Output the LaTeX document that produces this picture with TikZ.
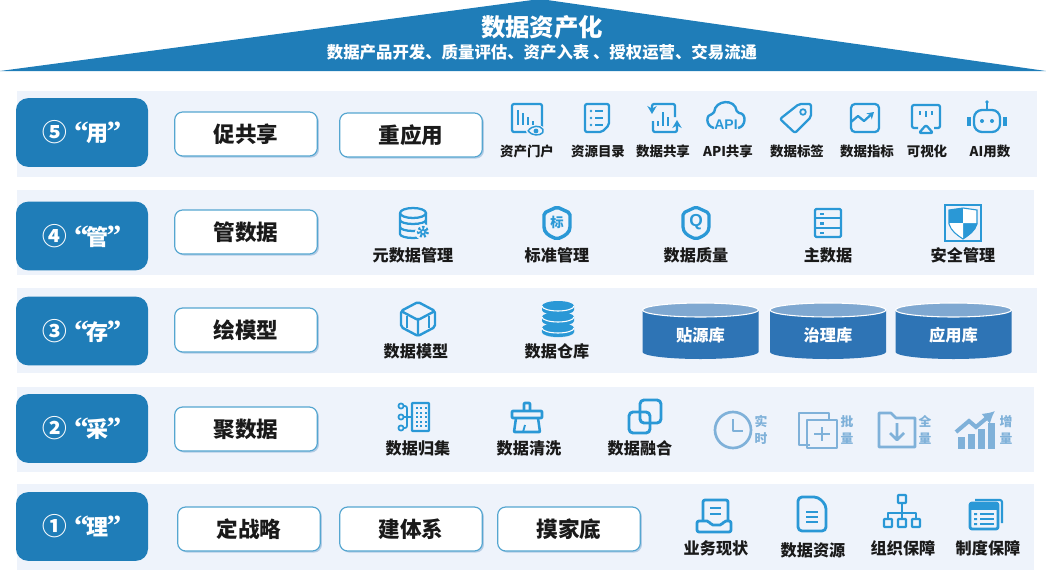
\documentclass[tikz,border=0pt]{standalone}
\usepackage{fontspec}
\newfontfamily\cjk{Noto Sans CJK SC}
\newfontfamily\quotefont{Liberation Serif}
\usetikzlibrary{shadows,arrows.meta}
\definecolor{roofblue}{HTML}{1F7DB8}
\definecolor{bandbg}{HTML}{EEF3FB}
\definecolor{iconblue}{HTML}{2A98D6}
\definecolor{btnline}{HTML}{55A6D0}
\definecolor{cylbody}{HTML}{2E74B5}
\definecolor{cyltop}{HTML}{7FA8D1}
\definecolor{lightblue}{HTML}{7FB1D9}
\definecolor{inkblack}{HTML}{1A1A1A}
\newcommand{\layername}[2]{{\fontsize{18.5}{18}\selectfont #1}\hspace{5pt}{\quotefont\bfseries\fontsize{22}{20}\selectfont “}\hspace{-1.5pt}#2\hspace{-1.5pt}{\quotefont\bfseries\fontsize{22}{20}\selectfont ”}}
\tikzset{
  block/.style={fill=roofblue,rounded corners=9pt,minimum width=99pt,minimum height=51.5pt,inner sep=0pt,text=white,font=\cjk\bfseries\fontsize{16.5}{18}\selectfont},
  button/.style={draw=btnline,line width=0.9pt,fill=white,rounded corners=6pt,minimum width=107pt,minimum height=33pt,inner sep=0pt,text=inkblack,drop shadow={shadow xshift=1.2pt,shadow yshift=-1.2pt,opacity=0.3,fill=cylbody},font=\cjk\bfseries\fontsize{16.2}{18}\selectfont},
  smalllab/.style={text=inkblack,inner sep=0pt,font=\cjk\bfseries\fontsize{10.1}{11}\selectfont},
  midlab/.style={text=inkblack,inner sep=0pt,font=\cjk\bfseries\fontsize{12.1}{13}\selectfont},
  lightlab/.style={text=lightblue,inner sep=0pt,align=center,font=\cjk\bfseries\fontsize{9.6}{13}\selectfont},
  ico/.style={draw=iconblue,line width=1.7pt,line join=round,rounded corners=1.5pt},
  lico/.style={draw=lightblue,line width=2pt,line join=round},
  % 第五层图标
  portalicon/.pic={
    \draw[ico] (-15,-14) rectangle (15,14);
    \foreach \a/\b in {-9/-8,-4/-5,1/-1,6/3} \draw[ico] (\a,\b) -- (\a,7);
    \fill[bandbg] (9,13) ellipse (10 and 6);
    \draw[ico,line width=1.1pt] (1,13) .. controls (5,7) and (13,7) .. (17,13) .. controls (13,18) and (5,18) .. (1,13);
    \fill[iconblue] (9,13) circle (2.4);
  },
  catalogicon/.pic={
    \draw[ico] (-12,-14) -- (12,-14) -- (12,7) -- (5,14) -- (-12,14) -- cycle;
    \foreach \b in {-7,0,7} {\fill[iconblue] (-6,\b) circle (1.3); \draw[ico] (-2,\b) -- (6,\b);}
  },
  shareicon/.pic={
    \draw[ico,-{Stealth[length=6pt,width=7pt]}] (12,-1) -- (12,-14) -- (-11,-14) -- (-11,-4);
    \draw[ico,-{Stealth[length=6pt,width=7pt]}] (-10,3) -- (-10,14) -- (14,14) -- (14,2);
    \foreach \a/\b in {-5/3,0/-6,5/-1} \draw[ico] (\a,\b) -- (\a,8);
  },
  apiicon/.pic={
    \draw[ico,line width=1.8pt] (-12,10) .. controls (-21,8) and (-20,-4) .. (-12,-4) .. controls (-11,-18) and (9,-20) .. (11,-5) .. controls (21,-5) and (20,9) .. (12,10);
    \node[inner sep=0pt,text=iconblue,font=\fontspec{Liberation Sans}\bfseries\fontsize{10.5}{11}\selectfont] (-txt) at (0,7) {API};
  },
  tagicon/.pic={
    \draw[ico] (-16,1) -- (3,-14) -- (15,-14) -- (15,-1) -- (-1,15) -- cycle;
    \draw[ico,line width=1.3pt] (7,-6) circle (2.8);
  },
  metricicon/.pic={
    \draw[ico,rounded corners=3pt] (-14,-14) rectangle (14,14);
    \draw[ico,rounded corners=0pt,-{Stealth[length=5pt,width=6pt]}] (-14,4) -- (-7,-2) -- (-1,3) -- (9,-6);
  },
  visicon/.pic={
    \draw[ico] (-8,10) -- (-14,10) -- (-14,-13) -- (14,-13) -- (14,10) -- (8,10);
    \foreach \a/\b in {-6/-3,0/-1,6/-3} \draw[ico] (\a,-7) -- (\a,\b);
    \draw[ico] (0,7) -- (7,15) -- (-7,15) -- cycle;
  },
  boticon/.pic={
    \draw[ico,rounded corners=6pt] (-13,-8) rectangle (13,14);
    \draw[ico] (0,-8) -- (0,-15);
    \fill[iconblue] (0,-16) circle (1.8);
    \fill[iconblue] (-5,3) circle (2) (5,3) circle (2);
    \draw[ico,line width=2.4pt] (-18,-1) -- (-18,8) (18,-1) -- (18,8);
  },
  % 第四层图标
  metaicon/.pic={
    \draw[ico,rounded corners=0pt] (-13,-10) -- (-13,11) arc (180:0:13 and 4) -- (13,-10);
    \draw[ico,rounded corners=0pt] (0,-10) ellipse (13 and 5);
    \draw[ico,rounded corners=0pt] (-13,-3) arc (180:0:13 and 4) (-13,4) arc (180:0:13 and 4);
    \fill[bandbg] (10,9) circle (8);
    \draw[iconblue,line width=2.4pt,dash pattern=on 1.5pt off 1.5pt] (10,9) circle (4.5);
    \fill[iconblue] (10,9) circle (3);
    \fill[bandbg] (10,9) circle (1.3);
  },
  stdicon/.pic={
    \draw[ico,line width=2.6pt] (-13,-10) -- (0,-16) -- (13,-10) -- (13,6) .. controls (10,12) and (5,14) .. (0,16) .. controls (-5,14) and (-10,12) .. (-13,6) -- cycle;
    \node[inner sep=0pt,text=iconblue,font=\cjk\bfseries\fontsize{10}{10}\selectfont] (-txt) at (0,-1) {标};
  },
  qualicon/.pic={
    \draw[ico,line width=2.4pt] (-13,-10) -- (0,-16) -- (13,-10) -- (13,6) .. controls (10,12) and (5,14) .. (0,16) .. controls (-5,14) and (-10,12) .. (-13,6) -- cycle;
    \node[inner sep=0pt,text=iconblue,font=\fontspec{Liberation Sans}\bfseries\fontsize{13}{13}\selectfont] (-txt) at (0,-1) {Q};
  },
  mastericon/.pic={
    \draw[ico,rounded corners=1pt] (-13,-14) rectangle (13,14);
    \draw[ico] (-13,-5) -- (13,-5) (-13,5) -- (13,5);
    \foreach \b in {-10.5,-1,8.5} \fill[iconblue] (-8,\b) rectangle (-4,\b+2.5);
  },
  safeicon/.pic={
    \draw[iconblue,line width=1pt] (-18,-18) rectangle (18,18);
    \begin{scope}
      \clip (-14,-13) -- (0,-15) -- (14,-13) -- (14,1) .. controls (12,8) and (6,12) .. (0,16) .. controls (-6,12) and (-12,8) .. (-14,1) -- cycle;
      \fill[iconblue] (-15,-16) rectangle (0,0) (0,0) rectangle (15,17);
      \fill[white] (0,-16) rectangle (15,0) (-15,0) rectangle (0,17);
    \end{scope}
    \draw[iconblue,line width=0.8pt] (-14,-13) -- (0,-15) -- (14,-13) -- (14,1) .. controls (12,8) and (6,12) .. (0,16) .. controls (-6,12) and (-12,8) .. (-14,1) -- cycle;
  },
  % 第三层图标
  cubeicon/.pic={
    \draw[ico,line width=1.8pt] (0,-17) -- (17,-8) -- (17,8) -- (0,17) -- (-17,8) -- (-17,-8) -- cycle;
    \draw[ico,line width=1.8pt] (-17,-8) -- (0,1) -- (17,-8) (0,1) -- (0,17);
    \draw[ico,line width=1.2pt] (-11,-3) -- (-11,9) (11,-3) -- (11,9);
  },
  stackicon/.pic={
    \draw[iconblue!35,line width=0.6pt] (-16,11) -- (-16,13) arc (180:0:16 and 5) -- (16,11);
    \foreach \b in {-13,-2,9} {
      \fill[iconblue] (-16,\b) -- (-16,\b+4) arc (180:0:16 and 5) -- (16,\b) arc (0:-180:16 and 5) -- cycle;
      \draw[white,line width=0.8pt] (-16,\b) arc (180:0:16 and 5);
    }
  },
  dbcyl/.pic={
    \fill[cylbody] (-58,-42) -- (-58,0) arc (180:0:58 and 7) -- (58,-42) -- cycle;
    \fill[cyltop,draw=white,line width=0.8pt] (0,-42) ellipse (58 and 7);
  },
  % 第二层图标
  gathericon/.pic={
    \draw[ico,rounded corners=0.5pt] (-3,-14) rectangle (14,14);
    \foreach \a in {1.5,6,10.5} \foreach \b in {-9,-4.5,0,4.5,9} \fill[iconblue] (\a-1,\b-1) rectangle (\a+1,\b+1);
    \foreach \b in {-11,0,11} \draw[ico,line width=1.3pt] (-14,\b) circle (2.6);
    \draw[ico,line width=1.3pt] (-11,-11) -- (-8,-11) -- (-8,11) -- (-11,11) (-11,0) -- (-3,0);
  },
  broomicon/.pic={
    \draw[ico,line width=1.9pt,rounded corners=0.5pt] (-3,-6) -- (-3,-14) -- (3,-14) -- (3,-6);
    \draw[ico,line width=1.9pt,rounded corners=0.5pt] (-15,-6) rectangle (15,1);
    \draw[ico,line width=1.9pt,rounded corners=0.5pt] (-11,1) -- (-13,15) -- (13,15) -- (11,1);
    \draw[ico,line width=1.4pt] (-4,15) -- (-2,8);
  },
  mergeicon/.pic={
    \draw[ico,rounded corners=3pt,line width=2.2pt] (-5,-17) rectangle (16,6);
    \draw[ico,rounded corners=3pt,line width=2.2pt] (-16,-5) rectangle (5,16);
  },
  clockicon/.pic={
    \draw[lico] (0,0) circle (18);
    \draw[lico] (0,-11) -- (0,1) -- (10,1);
  },
  batchicon/.pic={
    \draw[lico] (-7,15) -- (-18,15) -- (-18,-17) -- (12,-17) -- (12,-10);
    \draw[lico] (-10,-10) rectangle (20,18);
    \draw[lico] (5,-3) -- (5,11) (-3,4) -- (13,4);
  },
  foldericon/.pic={
    \draw[lico] (-18,17) -- (-18,-17) -- (-6,-17) -- (-1,-12) -- (18,-12) -- (18,17) -- cycle;
    \draw[lico] (0,-7) -- (0,9) (-7,3) -- (0,10) -- (7,3);
  },
  growthicon/.pic={
    \draw[lightblue,line width=3pt,-{Latex[length=9pt,width=10pt]}] (-20,2) -- (-7,-9) -- (0,-3) -- (19,-19);
    \foreach \a/\b in {-15/7,-5/4,5/-1,15/-7} \fill[lightblue] (\a-3.5,\b) rectangle (\a+3.5,19);
  },
  % 第一层图标
  statusicon/.pic={
    \draw[ico,line width=2.1pt] (-11,6) -- (-11,-14) -- (14,-14) -- (14,6);
    \draw[ico,line width=2.1pt] (-4,-6) -- (7,-6) (-4,0) -- (7,0);
    \draw[ico,line width=2.1pt] (-17,7) -- (-5,7) -- (-3,11) -- (8,11) -- (10,7) -- (17,7) -- (17,18) -- (-17,18) -- cycle;
  },
  docicon/.pic={
    \draw[ico,line width=2.1pt,rounded corners=3pt] (-14,-17) -- (6,-17) -- (14,-9) -- (14,17) -- (-14,17) -- cycle;
    \draw[ico,line width=1.8pt] (-6,-2) -- (6,-2) (-6,3) -- (6,3) (-6,8) -- (6,8);
  },
  orgicon/.pic={
    \draw[ico,rounded corners=0.5pt] (-4,-17) rectangle (4,-9);
    \draw[ico,rounded corners=0pt] (0,-9) -- (0,7) (-14,7) -- (-14,1) -- (14,1) -- (14,7);
    \foreach \a in {-14,0,14} \draw[ico,rounded corners=0.5pt] (\a-4,7) rectangle (\a+4,15);
  },
  ruleicon/.pic={
    \draw[ico,line width=1.6pt] (-11,-14) -- (16,-14) -- (16,9);
    \fill[iconblue] (-16,-11) rectangle (12,-4);
    \draw[ico,line width=2.1pt] (-16,-11) rectangle (12,15);
    \draw[ico,line width=1.4pt] (-6,0) -- (8,0) (-6,5) -- (8,5) (-6,10) -- (8,10);
    \fill[iconblue] (-12,-1) rectangle (-9,1) (-12,4) rectangle (-9,6) (-12,9) rectangle (-9,11);
  },
}
\begin{document}
\begin{tikzpicture}[x=0.75pt,y=-0.75pt]
    \useasboundingbox (0,0) rectangle (1046,571);

    % 绘制屋顶
    \fill[roofblue] (0,71) -- (540,-1) -- (1046,71) -- cycle;
    \node[text=white,inner sep=0pt,font=\cjk\bfseries\fontsize{18.3}{20}\selectfont] (title) at (542,27) {数据资产化};
    \node[text=white,inner sep=0pt,font=\cjk\bfseries\fontsize{12.3}{14}\selectfont] (subtitle) at (542,52) {数据产品开发、质量评估、资产入表 、授权运营、交易流通};

    % 绘制五层底板
    \foreach \a/\b/\r in {91/177/1037,190/275/1034,288/373/1037,387/472/1034,484/570/1034}
        \fill[bandbg] (17,\a) rectangle (\r,\b);

    % 左侧标题块
    \node[block] (yong) at (82,132.5) {\layername{⑤}{用}};
    \node[block] (guan) at (82,236) {\layername{④}{管}};
    \node[block] (cun)  at (82,331) {\layername{③}{存}};
    \node[block] (cai)  at (82,428.5) {\layername{②}{采}};
    \node[block] (li)   at (82,526.5) {\layername{①}{理}};

    % 按钮
    \node[button] (gongxiang) at (246,134) {促共享};
    \node[button] (yingyong) at (411,135) {重应用};
    \node[button] (guanshuju) at (246,232) {管数据};
    \node[button] (huimoxing) at (246,330) {绘模型};
    \node[button] (jushuju) at (246,429) {聚数据};
    \node[button] (zhanlue) at (249,529) {定战略};
    \node[button] (tixi) at (411,529) {建体系};
    \node[button] (jiadi) at (569,529) {摸家底};

    % 第五层
    \foreach \n/\x/\ix/\t/\p in {a/527/527/资产门户/portalicon,b/598/597/资源目录/catalogicon,c/663/663/数据共享/shareicon,d/728/726/API共享/apiicon,e/797/796/数据标签/tagicon,f/867/865/数据指标/metricicon,g/927/926/可视化/visicon,h/990/987/AI用数/boticon} {
        \pic (ic5\n) at (\ix,118) {\p};
        \node[smalllab] (lab5\n) at (\x,151) {\t};
    }

    % 第四层
    \foreach \n/\x/\t/\p in {a/413/元数据管理/metaicon,b/557/标准管理/stdicon,c/696/数据质量/qualicon,d/828/主数据/mastericon,e/963/安全管理/safeicon} {
        \pic (ic4\n) at (\x,223) {\p};
        \node[midlab] (lab4\n) at (\x,255.5) {\t};
    }

    % 第三层
    \pic (ic3a) at (418,319) {cubeicon};
    \node[midlab] (lab3a) at (416,351.5) {数据模型};
    \pic (ic3b) at (558,319) {stackicon};
    \node[midlab] (lab3b) at (557,351.5) {数据仓库};
    \foreach \n/\x/\t in {a/700.5/贴源库,b/828/治理库,c/953.5/应用库} {
        \pic (cyl\n) at (\x,352) {dbcyl};
        \node[text=white,inner sep=0pt,font=\cjk\bfseries\fontsize{12.2}{13}\selectfont] (lab3\n c) at (\x,335) {\t};
    }

    % 第二层
    \foreach \n/\ix/\x/\t/\p in {a/415/418/数据归集/gathericon,b/527/529/数据清洗/broomicon,c/645/640/数据融合/mergeicon} {
        \pic (ic2\n) at (\ix,417) {\p};
        \node[midlab] (lab2\n) at (\x,448.5) {\t};
    }
    \foreach \n/\ix/\p in {d/733/clockicon,e/817/batchicon,f/897/foldericon,g/976/growthicon}
        \pic (ic2\n) at (\ix,430) {\p};
    \node[lightlab] (lab2d) at (761,430) {实\\时};
    \node[lightlab] (lab2e) at (847,430) {批\\量};
    \node[lightlab] (lab2f) at (925,430) {全\\量};
    \node[lightlab] (lab2g) at (1006,430) {增\\量};

    % 第一层
    \foreach \n/\ix/\iy/\x/\y/\t/\p in {a/714/514/716/548.5/业务现状/statusicon,b/812/514/813/550/数据资源/docicon,c/902/512/903/548.5/组织保障/orgicon,d/986/514/988/548.5/制度保障/ruleicon} {
        \pic (ic1\n) at (\ix,\iy) {\p};
        \node[midlab] (lab1\n) at (\x,\y) {\t};
    }
\end{tikzpicture}
\end{document}
